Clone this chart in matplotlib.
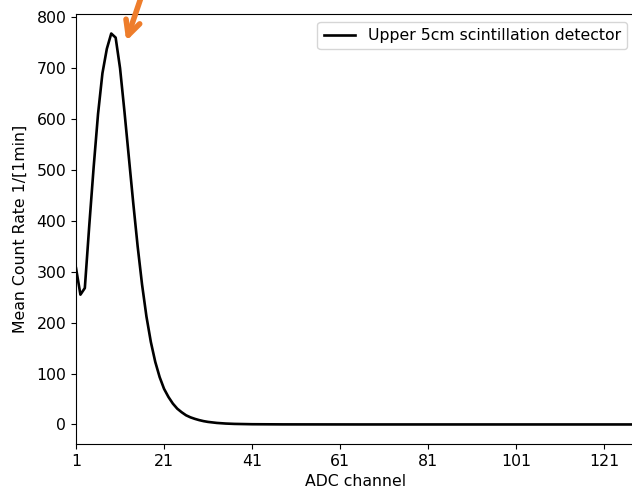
import numpy as np
import matplotlib
matplotlib.use('Agg')
import matplotlib.pyplot as plt

plt.rcParams['font.size'] = 11.3

# mean count rate per ADC channel
rate_peak = [307, 255, 268, 390, 505, 610, 690, 738, 768, 760,
             700, 615, 525, 435, 350, 275, 212, 162, 123, 93,
             70, 54, 41, 31, 24, 18, 14, 11, 8.5, 6.5,
             5, 4, 3, 2.3, 1.8, 1.4, 1.1, 0.9, 0.7, 0.55]
rate_tail = [0.45, 0.38, 0.32, 0.27, 0.23, 0.2, 0.17, 0.15, 0.13, 0.11,
             0.1, 0.09, 0.08, 0.07, 0.06, 0.05, 0.05, 0.04, 0.04, 0.03,
             0.03, 0.03, 0.02, 0.02, 0.02, 0.02, 0.01, 0.01, 0.01, 0.01,
             0.01, 0.01, 0.01, 0.01, 0.0, 0.0, 0.0, 0.0, 0.0, 0.0,
             0.0, 0.0, 0.0, 0.0, 0.0, 0.0, 0.0, 0.0, 0.0, 0.0,
             0.0, 0.0, 0.0, 0.0, 0.0, 0.0, 0.0, 0.0, 0.0, 0.0,
             0.0, 0.0, 0.0, 0.0, 0.0, 0.0, 0.0, 0.0, 0.0, 0.0,
             0.0, 0.0, 0.0, 0.0, 0.0, 0.0, 0.0, 0.0, 0.0, 0.0,
             0.0, 0.0, 0.0, 0.0, 0.0, 0.0, 0.0, 0.0]
rate = np.array(rate_peak + rate_tail)
channels = np.arange(1, len(rate) + 1)

fig = plt.figure(figsize=(6.32, 4.94), dpi=100)
ax = fig.add_axes([0.1203, 0.1012, 0.8844, 0.8705])

ax.plot(channels, rate, color='black', lw=1.9, label='Upper 5cm scintillation detector')
ax.set_xlim(1, 128)
ax.set_xticks(range(1, 129, 20))
ax.set_xlabel('ADC channel')
ax.set_ylabel('Mean Count Rate 1/[1min]', labelpad=6)
ax.legend(loc='upper right')

# orange arrow pointing at the peak (text sits above the cropped figure)
ax.annotate('', xy=(12.2, 748), xytext=(28, 1150),
            arrowprops=dict(arrowstyle='->', color='#ee7d2b', lw=4,
                            mutation_scale=26),
            annotation_clip=False)

fig.savefig('out.png', dpi=100)
